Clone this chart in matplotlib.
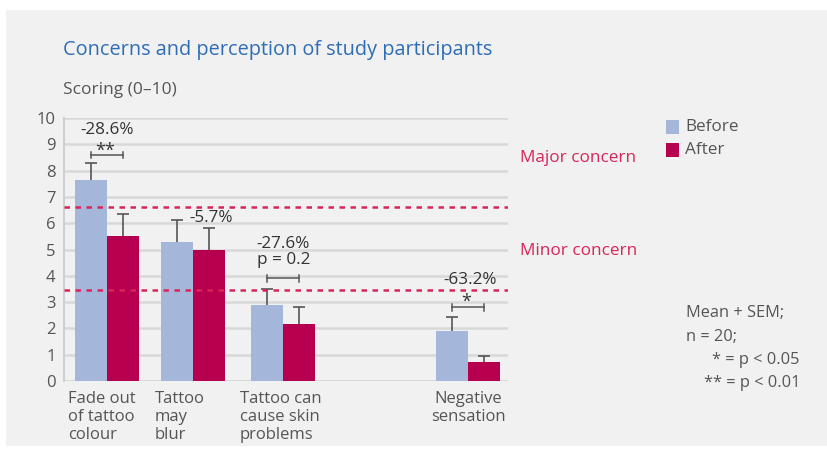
import matplotlib
matplotlib.use("Agg")
import matplotlib.pyplot as plt
from matplotlib.patches import Rectangle

plt.rcParams['font.family'] = ['Open Sans', 'DejaVu Sans']

categories = ["Fade out\nof tattoo\ncolour", "Tattoo\nmay\nblur", "Tattoo can\ncause skin\nproblems", "Negative\nsensation"]
before = [7.65, 5.3, 2.88, 1.9]
after = [5.5, 5.0, 2.15, 0.72]
before_err = [0.62, 0.83, 0.6, 0.53]
after_err = [0.85, 0.8, 0.65, 0.23]
changes = ["-28.6%", "-5.7%", "-27.6%\np = 0.2", "-63.2%"]
signif = ["**", "", "", "*"]
major_level = 6.62
minor_level = 3.46
yticks = list(range(0, 11))

positions = [0, 1, 2.05, 4.19]
W, H = 827, 451
col_before = "#a4b7db"
col_after = "#b6004f"
col_line = "#d9245a"
grey_txt = "#555555"
bg = "#f0f1f0"

fig = plt.figure(figsize=(W / 100, H / 100), dpi=100)
fig.patch.set_facecolor("white")
fig.add_artist(Rectangle((6 / W, 5 / H), 1, 1 - 15 / H, transform=fig.transFigure,
                         facecolor=bg, edgecolor="none", zorder=-10))

ax_l, ax_r, ax_b, ax_t = 64, 508, 381, 118
ax = fig.add_axes([ax_l / W, 1 - ax_b / H, (ax_r - ax_l) / W, (ax_b - ax_t) / H])
ax.set_facecolor("none")
bw = 0.372
ax.set_xlim(-0.5, 4.66)
ax.set_ylim(0, 10)

for y in yticks[1:]:
    ax.axhline(y, color="#d8d8d8", lw=1.8, zorder=0)
ax.axhline(0, color="#cfcfcf", lw=1.8, zorder=0)

xb = [p - bw / 2 for p in positions]
xa = [p + bw / 2 for p in positions]
ax.bar(xb, before, width=bw, color=col_before, zorder=2)
ax.bar(xa, after, width=bw, color=col_after, zorder=2)

cap = 0.07
for xs, vals, errs in [(xb, before, before_err), (xa, after, after_err)]:
    tops = [v + e for v, e in zip(vals, errs)]
    ax.vlines(xs, vals, tops, color="#555555", lw=1.2, zorder=3)
    ax.hlines(tops, [x - cap for x in xs], [x + cap for x in xs], color="#555555", lw=1.2, zorder=3)

ax.axhline(major_level, color=col_line, ls=(0, (2.2, 2.2)), lw=1.8, zorder=4)
ax.axhline(minor_level, color=col_line, ls=(0, (2.2, 2.2)), lw=1.8, zorder=4)

for s in ["top", "right", "bottom"]:
    ax.spines[s].set_visible(False)
ax.spines["left"].set_color("#cfcfcf")
ax.spines["left"].set_linewidth(1.5)
ax.set_yticks(yticks)
ax.set_yticklabels([str(v) for v in yticks], fontsize=12, color=grey_txt)
ax.tick_params(axis="y", length=0, pad=6)
ax.set_xticks([])

# category labels
lab_x = [68, 155, 240, 468]
for i, c in enumerate(categories):
    fig.text(lab_x[i] / W, 1 - 391 / H, c, ha="center" if i == 3 else "left", va="top",
             fontsize=12, color=grey_txt, linespacing=1.15)

tk = dict(color="#333333", fontsize=12.3)

def bracket(i, y):
    ax.plot([xb[i], xa[i]], [y, y], color="#555555", lw=1.1, zorder=5)
    for x in (xb[i], xa[i]):
        ax.plot([x, x], [y - 0.12, y + 0.12], color="#555555", lw=1.1, zorder=5)

bracket(0, 8.6)
ax.text(positions[0], 9.55, changes[0], ha="center", va="center", **tk)
ax.text(positions[0] - 0.02, 8.75, signif[0], ha="center", va="center", fontsize=13, color="#333333")

ax.text(xb[1] + 0.14, 6.2, changes[1], ha="left", va="center", **tk)

bracket(2, 3.9)
ax.text(positions[2], 4.9, changes[2], ha="center", va="center", linespacing=1.05, **tk)

bracket(3, 2.8)
ax.text(positions[3] + 0.03, 3.85, changes[3], ha="center", va="center", **tk)
ax.text(positions[3] - 0.02, 3.0, signif[3], ha="center", va="center", fontsize=13, color="#333333")

# threshold labels
fig.text(520 / W, 1 - 158 / H, "Major concern", color=col_line, fontsize=12.3, va="center", ha="left")
fig.text(520 / W, 1 - 251 / H, "Minor concern", color=col_line, fontsize=12.3, va="center", ha="left")

# legend
for y, col, lab in [(127, col_before, "Before"), (150, col_after, "After")]:
    fig.add_artist(Rectangle((666 / W, 1 - (y + 7) / H), 13 / W, 14 / H, transform=fig.transFigure,
                             facecolor=col, edgecolor="none"))
    fig.text(685 / W, 1 - y / H, lab, fontsize=12.3, color=grey_txt, va="center", ha="left")

# titles
fig.text(63 / W, 1 - 50 / H, "Concerns and perception of study participants", color="#2f6db5",
         fontsize=14.3, va="center", ha="left")
fig.text(63 / W, 1 - 90 / H, "Scoring (0\u201310)", color=grey_txt, fontsize=12.5, va="center", ha="left")

# note
fig.text(686 / W, 1 - 313 / H, "Mean + SEM;", color=grey_txt, fontsize=11.8, va="center", ha="left")
fig.text(686 / W, 1 - 337 / H, "n = 20;", color=grey_txt, fontsize=11.8, va="center", ha="left")
fig.text(800 / W, 1 - 360 / H, "* = p < 0.05", color=grey_txt, fontsize=11.8, va="center", ha="right")
fig.text(800 / W, 1 - 383 / H, "** = p < 0.01", color=grey_txt, fontsize=11.8, va="center", ha="right")

fig.savefig("out.png", dpi=100, facecolor="white")
